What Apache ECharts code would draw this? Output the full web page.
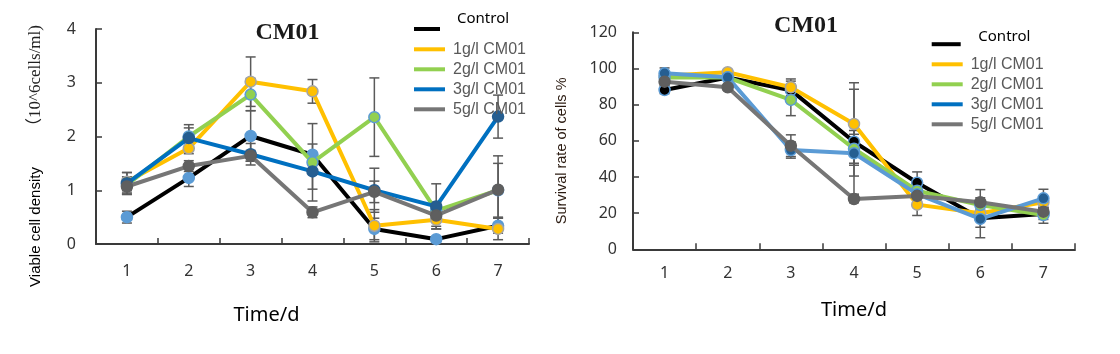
<!DOCTYPE html>
<html><head><meta charset="utf-8">
<script src="https://cdn.jsdelivr.net/npm/echarts@6/dist/echarts.min.js"></script>
<style>html,body{margin:0;padding:0;background:#fff}#c{width:1120px;height:354px}</style>
</head><body><div id="c"></div>
<script>
// ---- data ----
const days = ['1', '2', '3', '4', '5', '6', '7'];
const seriesNames = ['Control', '1g/l CM01', '2g/l CM01', '3g/l CM01', '5g/l CM01'];
const densityTicks = [0, 1, 2, 3, 4];
const survivalTicks = [0, 20, 40, 60, 80, 100, 120];

// Viable cell density (10^6 cells/ml)
const densityControl = [0.50, 1.23, 2.01, 1.66, 0.28, 0.09, 0.34];
const density1g      = [1.16, 1.78, 3.02, 2.84, 0.34, 0.45, 0.28];
const density2g      = [1.10, 2.00, 2.78, 1.52, 2.36, 0.62, 1.00];
const density3g      = [1.13, 1.97, 1.67, 1.35, 1.00, 0.70, 2.37];
const density5g      = [1.07, 1.45, 1.64, 0.59, 0.97, 0.53, 1.01];
const densityErrControl = [0.11, 0.16, 0.47, 0.20, 0.20, 0.05, 0.14];
const densityErr1g      = [0.17, 0.10, 0.46, 0.22, 0.30, 0.12, 0.20];
const densityErr2g      = [0.15, 0.22, 0.30, 0.72, 0.73, 0.15, 0.50];
const densityErr3g      = [0.20, 0.19, 0.20, 0.33, 0.41, 0.42, 0.40];
const densityErr5g      = [0.15, 0.10, 0.10, 0.10, 0.20, 0.25, 0.63];

// Survival rate of cells %
const survivalControl = [88.1, 95.0, 88.0, 59.5, 36.8, 17.2, 19.5];
const survival1g      = [96.0, 97.9, 89.6, 69.3, 24.7, 19.9, 26.0];
const survival2g      = [95.0, 95.0, 82.6, 55.6, 32.4, 24.5, 18.9];
const survival3g      = [97.3, 95.1, 54.9, 53.1, 30.5, 16.8, 28.2];
const survival5g      = [92.7, 89.6, 57.3, 27.8, 29.5, 26.0, 20.8];
const survivalErrControl = [2, 1.5, 5, 29, 6, 5, 3];
const survivalErr1g      = [2, 1.5, 4.6, 22.8, 6, 4, 3];
const survivalErr2g      = [2, 1.5, 8.7, 8, 4, 4, 4.5];
const survivalErr3g      = [3, 1.5, 4.5, 12.6, 4, 10.4, 5];
const survivalErr5g      = [2, 1.5, 6, 2, 3, 7, 2];

// ---- styles ----
const leftStyles = [
  {line: '#000000', fill: '#5B9BD5', border: '#5B9BD5'},
  {line: '#FFC000', fill: '#FFC000', border: '#A5A5A5'},
  {line: '#92D050', fill: '#92D050', border: '#5B9BD5'},
  {line: '#0070C0', fill: '#255E91', border: '#255E91'},
  {line: '#767676', fill: '#5F5F5F', border: '#5F5F5F'}
];
const rightStyles = [
  {line: '#000000', fill: '#000000', border: '#5B9BD5'},
  {line: '#FFC000', fill: '#FFC000', border: '#A5A5A5'},
  {line: '#92D050', fill: '#92D050', border: '#5B9BD5'},
  {line: '#5B9BD5', fill: '#255E91', border: '#5B9BD5'},
  {line: '#767676', fill: '#5F5F5F', border: '#5F5F5F'}
];
const legendColors = ['#000000', '#FFC000', '#92D050', '#0070C0', '#767676'];

const leftVals = [densityControl, density1g, density2g, density3g, density5g];
const leftErrs = [densityErrControl, densityErr1g, densityErr2g, densityErr3g, densityErr5g];
const rightVals = [survivalControl, survival1g, survival2g, survival3g, survival5g];
const rightErrs = [survivalErrControl, survivalErr1g, survivalErr2g, survivalErr3g, survivalErr5g];

function errRows(vals, errs) {
  const rows = [];
  vals.forEach((arr, s) => arr.forEach((v, i) => rows.push([i, v - errs[s][i], v + errs[s][i]])));
  return rows;
}
function errRender(params, api) {
  const x = api.value(0);
  const pLo = api.coord([x, api.value(1)]);
  const pHi = api.coord([x, api.value(2)]);
  const hw = 5;
  const st = {stroke: '#5A5A5A', lineWidth: 1.5};
  return {type: 'group', children: [
    {type: 'line', shape: {x1: pLo[0], y1: pLo[1], x2: pHi[0], y2: pHi[1]}, style: st},
    {type: 'line', shape: {x1: pLo[0] - hw, y1: pLo[1], x2: pLo[0] + hw, y2: pLo[1]}, style: st},
    {type: 'line', shape: {x1: pHi[0] - hw, y1: pHi[1], x2: pHi[0] + hw, y2: pHi[1]}, style: st}
  ]};
}

const series = [];
series.push({type: 'custom', xAxisIndex: 0, yAxisIndex: 0, renderItem: errRender,
  data: errRows(leftVals, leftErrs), encode: {x: 0, y: [1, 2]}, z: 1, silent: true});
series.push({type: 'custom', xAxisIndex: 1, yAxisIndex: 1, renderItem: errRender,
  data: errRows(rightVals, rightErrs), encode: {x: 0, y: [1, 2]}, z: 1, silent: true});
seriesNames.forEach((name, s) => {
  series.push({type: 'line', name: name, xAxisIndex: 0, yAxisIndex: 0, data: leftVals[s],
    symbol: 'circle', symbolSize: 11, z: 2 + s * 0.01,
    lineStyle: {color: leftStyles[s].line, width: 4},
    itemStyle: {color: leftStyles[s].fill, borderColor: leftStyles[s].border, borderWidth: 1.5},
    emphasis: {disabled: true}});
});
seriesNames.forEach((name, s) => {
  series.push({type: 'line', name: name, xAxisIndex: 1, yAxisIndex: 1, data: rightVals[s],
    symbol: 'circle', symbolSize: 11, z: 2 + s * 0.01,
    lineStyle: {color: rightStyles[s].line, width: 4},
    itemStyle: {color: rightStyles[s].fill, borderColor: rightStyles[s].border, borderWidth: 1.5},
    emphasis: {disabled: true}});
});

const axisLineStyle = {show: true, lineStyle: {color: '#3A3A3A', width: 2}};
const tickLabelStyle = {fontFamily: 'Noto Sans', fontSize: 16, color: '#333'};

function mkLegends(left, ctrlTop, ctrlWidth, ctrlPadL, ctrlLineH, restTop) {
  return [
    {orient: 'vertical', left: left, top: ctrlTop, padding: 0, selectedMode: false,
      icon: 'rect', itemWidth: ctrlWidth, itemHeight: 4,
      itemStyle: {borderWidth: 0},
      data: [{name: seriesNames[0], itemStyle: {color: legendColors[0], borderWidth: 0}}],
      formatter: function (name) { return name + '\n '; },
      textStyle: {fontFamily: 'Noto Sans', fontSize: 15, color: '#000', lineHeight: ctrlLineH,
        padding: [0, 0, 0, ctrlPadL]}},
    {orient: 'vertical', left: left, top: restTop, padding: 0, itemGap: 4, selectedMode: false,
      icon: 'rect', itemWidth: 31, itemHeight: 4,
      itemStyle: {borderWidth: 0},
      data: seriesNames.slice(1).map((n, i) => ({name: n, itemStyle: {color: legendColors[i + 1], borderWidth: 0}})),
      textStyle: {fontFamily: 'Liberation Sans', fontSize: 16, color: '#595959', lineHeight: 16,
        padding: [0, 0, 0, 3]}}
  ];
}

const option = {
  animation: false,
  backgroundColor: '#fff',
  grid: [
    {left: 96, top: 29, width: 433, height: 215},
    {left: 633, top: 32.3, width: 442, height: 217}
  ],
  xAxis: [
    {type: 'category', gridIndex: 0, data: days, boundaryGap: true,
      axisLine: axisLineStyle, axisTick: {show: true, inside: true, length: 6, lineStyle: {color: '#3A3A3A', width: 1.5}},
      axisLabel: Object.assign({margin: 19}, tickLabelStyle),
      name: 'Time/d', nameLocation: 'middle', nameGap: 61,
      nameTextStyle: {fontFamily: 'Noto Sans', fontSize: 20, color: '#000', padding: [0, 92, 0, 0]}},
    {type: 'category', gridIndex: 1, data: days, boundaryGap: true,
      axisLine: axisLineStyle, axisTick: {show: true, inside: true, length: 6, lineStyle: {color: '#3A3A3A', width: 1.5}},
      axisLabel: Object.assign({margin: 16}, tickLabelStyle),
      name: 'Time/d', nameLocation: 'middle', nameGap: 51,
      nameTextStyle: {fontFamily: 'Noto Sans', fontSize: 20, color: '#000'}}
  ],
  yAxis: [
    {type: 'value', gridIndex: 0, min: densityTicks[0], max: densityTicks[densityTicks.length - 1], interval: 1,
      splitLine: {show: false},
      axisLine: axisLineStyle, axisTick: {show: true, inside: true, length: 6, lineStyle: {color: '#3A3A3A', width: 1.5}},
      axisLabel: Object.assign({margin: 20}, tickLabelStyle),
      name: 'Viable cell density', nameLocation: 'middle', nameGap: 53,
      nameTextStyle: {fontFamily: 'Liberation Sans', fontSize: 15, color: '#000', padding: [0, 181, 0, 0]}},
    {type: 'value', gridIndex: 1, min: survivalTicks[0], max: survivalTicks[survivalTicks.length - 1], interval: 20,
      splitLine: {show: false},
      axisLine: axisLineStyle, axisTick: {show: true, inside: true, length: 6, lineStyle: {color: '#3A3A3A', width: 1.5}},
      axisLabel: Object.assign({margin: 16}, tickLabelStyle),
      name: 'Survival rate of cells %', nameLocation: 'middle', nameGap: 64,
      nameTextStyle: {fontFamily: 'Liberation Sans', fontSize: 14.5, color: '#2a1a10', padding: [0, 20, 0, 0]}}
  ],
  legend: mkLegends(414, 9, 26, 12, 20, 41.3).concat(mkLegends(931.7, 29.4, 29, 12.6, 14.6, 56.3)),
  graphic: [
    {type: 'text', x: 287.5, y: 32.5, style: {text: 'CM01', align: 'center', verticalAlign: 'middle',
      fontFamily: 'Liberation Serif', fontSize: 24, fontWeight: 'bold', fill: '#1a1a1a'}},
    {type: 'text', x: 806, y: 26, style: {text: 'CM01', align: 'center', verticalAlign: 'middle',
      fontFamily: 'Liberation Serif', fontSize: 24, fontWeight: 'bold', fill: '#1a1a1a'}},
    {type: 'text', x: 36, y: 80, rotation: Math.PI / 2, style: {text: '（10^6cells/ml)', align: 'center', verticalAlign: 'middle',
      fontFamily: '"Liberation Serif", "Noto Sans CJK SC"', fontSize: 17, fill: '#222'}}
  ],
  series: series
};

const chart = echarts.init(document.getElementById('c'), null, {renderer: 'canvas'});
chart.setOption(option);
</script>
</body></html>
